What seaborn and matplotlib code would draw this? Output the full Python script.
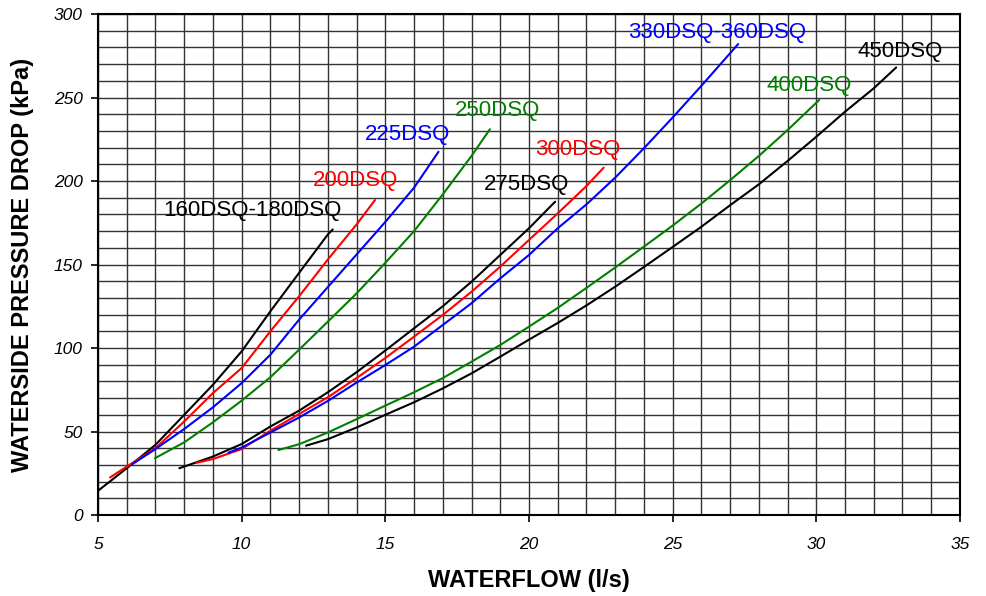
import numpy as np
import pandas as pd
import seaborn as sns
import matplotlib.pyplot as plt

# =========================
# 1. データ (読み取り値)
# =========================

c160_x = [5, 6, 7, 8, 9, 10, 11, 12, 13, 13.17]
c160_y = [14.5, 28, 42, 60, 78, 98, 122, 145, 168, 171]

c200_x = [5.42, 6, 7, 8, 9, 10, 11, 12, 13, 14, 14.64]
c200_y = [22.5, 29, 40, 56, 73, 88, 110, 131, 153, 174, 188.6]

c225_x = [6.2, 7, 8, 9, 10, 11, 12, 13, 14, 15, 16, 16.85]
c225_y = [30.5, 39.5, 51.5, 64.5, 79, 96, 117, 136.5, 156, 175.5, 196, 217.5]

c250_x = [6.98, 8, 9, 10, 11, 12, 13, 14, 15, 16, 17, 18, 18.64]
c250_y = [34, 43.5, 55.5, 68.5, 82.5, 99, 115.8, 132.7, 151, 170, 192, 215, 231]

c275_x = [7.83, 9, 10, 11, 12, 13, 14, 15, 16, 17, 18, 19, 20, 20.91]
c275_y = [28, 35, 42.5, 53, 62.5, 73.5, 85.5, 98.5, 111.8, 125, 139.7, 155.7, 171.7, 187.6]

c300_x = [8.41, 9, 10, 11, 12, 13, 14, 15, 16, 17, 18, 19, 20, 21, 22, 22.6]
c300_y = [31.2, 33.5, 39.5, 50.5, 60.5, 70.5, 82, 94, 106.8, 119.8, 133.7, 148.7, 164.7, 180.6, 197, 208]

c330_x = [9.54, 10, 11, 12, 13, 14, 15, 16, 17, 18, 19, 20, 21, 22, 23, 24, 25, 26, 27.28]
c330_y = [37.3, 40.4, 49.4, 58.4, 68.3, 79.3, 89.8, 100.8, 113.8, 126.8, 141.7, 155.7, 171.7,
          186, 202, 219.6, 238, 257, 282]

c400_x = [11.28, 12, 13, 14, 15, 16, 17, 18, 19, 20, 21, 22, 23, 24, 25, 26, 27, 28, 29, 30.1]
c400_y = [38.9, 42.4, 49.4, 57.4, 65.5, 73.5, 82, 91.8, 101.8, 112.8, 124, 136, 148.2,
          160.7, 173.3, 186.5, 200.5, 215, 230.5, 248.5]

c450_x = [12.24, 13, 14, 15, 16, 17, 18, 19, 20, 21, 22, 23, 24, 25, 26, 27, 28, 29, 30, 31, 32, 32.78]
c450_y = [41.5, 45.4, 52.4, 60, 67.5, 75.8, 84.8, 94.8, 105, 115, 125.5, 136.7, 148.5,
          160.5, 172.6, 185.5, 198, 212, 226.5, 241.5, 255.5, 268]

# ラベル (名前, 位置)
labels = ['160DSQ-180DSQ', '200DSQ', '225DSQ', '250DSQ', '275DSQ',
          '300DSQ', '330DSQ-360DSQ', '400DSQ', '450DSQ']
label_x = [7.26, 12.48, 14.29, 17.43, 18.43, 20.21, 23.45, 28.25, 31.42]
label_y = [182.6, 200.6, 228, 242.5, 198, 218.6, 289.2, 256.9, 277.8]

curves = [
    (c160_x, c160_y, 'black'),
    (c200_x, c200_y, 'red'),
    (c225_x, c225_y, 'blue'),
    (c250_x, c250_y, 'green'),
    (c275_x, c275_y, 'black'),
    (c300_x, c300_y, 'red'),
    (c330_x, c330_y, 'blue'),
    (c400_x, c400_y, 'green'),
    (c450_x, c450_y, 'black'),
]

# =========================
# 2. 描画
# =========================

sns.set_style('white')
plt.rcParams['font.family'] = ['Liberation Sans', 'DejaVu Sans']
plt.rcParams['text.color'] = 'black'
plt.rcParams['axes.labelcolor'] = 'black'
plt.rcParams['xtick.color'] = 'black'
plt.rcParams['ytick.color'] = 'black'

fig = plt.figure(figsize=(9.87, 5.96), dpi=100)
ax = fig.add_axes([0.0993, 0.1359, 0.8733, 0.8406])

for xs, ys, col in curves:
    df = pd.DataFrame({'x': xs, 'y': ys})
    sns.lineplot(data=df, x='x', y='y', color=col, linewidth=1.5, sort=False, ax=ax)

for name, (xs, ys, col), lx, ly in zip(labels, curves, label_x, label_y):
    ax.text(lx, ly, name, color=col, fontsize=16, ha='left', va='center')

ax.set_xlim(5, 35)
ax.set_ylim(0, 300)
ax.set_xticks(np.arange(5, 36, 5))
ax.set_yticks(np.arange(0, 301, 50))
ax.set_xticks(np.arange(5, 36, 1), minor=True)
ax.set_yticks(np.arange(0, 301, 10), minor=True)

ax.grid(which='both', color='#333333', linewidth=1.0)
ax.set_axisbelow(True)

ax.tick_params(which='major', direction='out', length=5, width=1.2,
               labelsize=12.5, bottom=True, left=True)
ax.tick_params(axis='x', which='major', pad=11)
ax.tick_params(axis='y', which='major', pad=6)
ax.tick_params(which='minor', length=0)
for lab in ax.get_xticklabels() + ax.get_yticklabels():
    lab.set_fontstyle('italic')

for sp in ax.spines.values():
    sp.set_color('black')
    sp.set_linewidth(1.5)

ax.set_xlabel('WATERFLOW (l/s)', fontsize=17, fontweight='bold', labelpad=12)
ax.set_ylabel('WATERSIDE PRESSURE DROP (kPa)', fontsize=17, fontweight='bold', labelpad=14)

fig.savefig('out.png', dpi=100)
